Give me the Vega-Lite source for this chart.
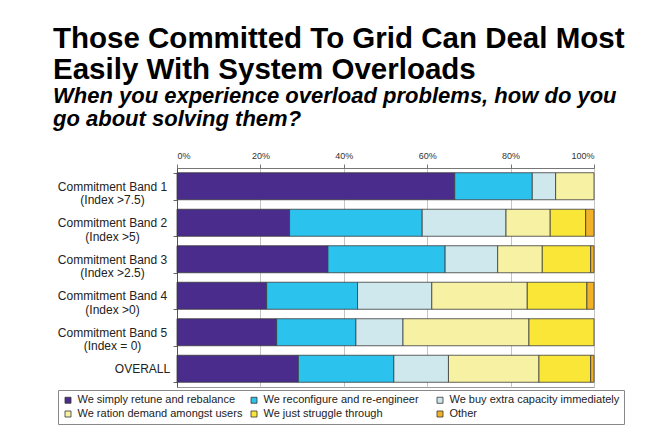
{
  "$schema": "https://vega.github.io/schema/vega-lite/v6.json",
  "width": 417,
  "height": 219,
  "autosize": {"type": "none"},
  "padding": {"left": 177, "top": 168, "right": 73, "bottom": 47},
  "background": "white",
  "title": {
    "text": ["Those Committed To Grid Can Deal Most", "Easily With System Overloads"],
    "subtitle": ["When you experience overload problems, how do you", "go about solving them?"],
    "anchor": "start",
    "frame": "group",
    "dx": -124,
    "dy": -6,
    "font": "Liberation Sans",
    "fontSize": 29.5,
    "fontWeight": "bold",
    "lineHeight": 31,
    "color": "#000000",
    "subtitleFont": "Liberation Sans",
    "subtitleFontSize": 22,
    "subtitleFontWeight": "bold",
    "subtitleFontStyle": "italic",
    "subtitleLineHeight": 23,
    "subtitleColor": "#000000",
    "subtitlePadding": 1,
    "offset": 14
  },
  "data": {
    "values": [
      {"group": "Commitment Band 1 (Index >7.5)", "answer": "We simply retune and rebalance", "k": 1, "pct": 66.6},
      {"group": "Commitment Band 1 (Index >7.5)", "answer": "We reconfigure and re-engineer", "k": 2, "pct": 18.6},
      {"group": "Commitment Band 1 (Index >7.5)", "answer": "We buy extra capacity immediately", "k": 3, "pct": 5.6},
      {"group": "Commitment Band 1 (Index >7.5)", "answer": "We ration demand amongst users", "k": 4, "pct": 9.2},
      {"group": "Commitment Band 2 (Index >5)", "answer": "We simply retune and rebalance", "k": 1, "pct": 27.0},
      {"group": "Commitment Band 2 (Index >5)", "answer": "We reconfigure and re-engineer", "k": 2, "pct": 31.8},
      {"group": "Commitment Band 2 (Index >5)", "answer": "We buy extra capacity immediately", "k": 3, "pct": 20.1},
      {"group": "Commitment Band 2 (Index >5)", "answer": "We ration demand amongst users", "k": 4, "pct": 10.6},
      {"group": "Commitment Band 2 (Index >5)", "answer": "We just struggle through", "k": 5, "pct": 8.5},
      {"group": "Commitment Band 2 (Index >5)", "answer": "Other", "k": 6, "pct": 2.0},
      {"group": "Commitment Band 3 (Index >2.5)", "answer": "We simply retune and rebalance", "k": 1, "pct": 36.2},
      {"group": "Commitment Band 3 (Index >2.5)", "answer": "We reconfigure and re-engineer", "k": 2, "pct": 28.1},
      {"group": "Commitment Band 3 (Index >2.5)", "answer": "We buy extra capacity immediately", "k": 3, "pct": 12.6},
      {"group": "Commitment Band 3 (Index >2.5)", "answer": "We ration demand amongst users", "k": 4, "pct": 10.7},
      {"group": "Commitment Band 3 (Index >2.5)", "answer": "We just struggle through", "k": 5, "pct": 11.6},
      {"group": "Commitment Band 3 (Index >2.5)", "answer": "Other", "k": 6, "pct": 0.8},
      {"group": "Commitment Band 4 (Index >0)", "answer": "We simply retune and rebalance", "k": 1, "pct": 21.5},
      {"group": "Commitment Band 4 (Index >0)", "answer": "We reconfigure and re-engineer", "k": 2, "pct": 21.8},
      {"group": "Commitment Band 4 (Index >0)", "answer": "We buy extra capacity immediately", "k": 3, "pct": 17.8},
      {"group": "Commitment Band 4 (Index >0)", "answer": "We ration demand amongst users", "k": 4, "pct": 22.9},
      {"group": "Commitment Band 4 (Index >0)", "answer": "We just struggle through", "k": 5, "pct": 14.3},
      {"group": "Commitment Band 4 (Index >0)", "answer": "Other", "k": 6, "pct": 1.7},
      {"group": "Commitment Band 5 (Index = 0)", "answer": "We simply retune and rebalance", "k": 1, "pct": 23.9},
      {"group": "Commitment Band 5 (Index = 0)", "answer": "We reconfigure and re-engineer", "k": 2, "pct": 19.0},
      {"group": "Commitment Band 5 (Index = 0)", "answer": "We buy extra capacity immediately", "k": 3, "pct": 11.3},
      {"group": "Commitment Band 5 (Index = 0)", "answer": "We ration demand amongst users", "k": 4, "pct": 30.2},
      {"group": "Commitment Band 5 (Index = 0)", "answer": "We just struggle through", "k": 5, "pct": 15.6},
      {"group": "OVERALL", "answer": "We simply retune and rebalance", "k": 1, "pct": 29.1},
      {"group": "OVERALL", "answer": "We reconfigure and re-engineer", "k": 2, "pct": 22.9},
      {"group": "OVERALL", "answer": "We buy extra capacity immediately", "k": 3, "pct": 13.1},
      {"group": "OVERALL", "answer": "We ration demand amongst users", "k": 4, "pct": 21.7},
      {"group": "OVERALL", "answer": "We just struggle through", "k": 5, "pct": 12.4},
      {"group": "OVERALL", "answer": "Other", "k": 6, "pct": 0.8}
    ]
  },
  "mark": {"type": "bar", "stroke": "#3a3a3a", "strokeWidth": 0.8},
  "encoding": {
    "y": {
      "field": "group",
      "type": "nominal",
      "sort": ["Commitment Band 1 (Index >7.5)", "Commitment Band 2 (Index >5)", "Commitment Band 3 (Index >2.5)", "Commitment Band 4 (Index >0)", "Commitment Band 5 (Index = 0)", "OVERALL"],
      "scale": {"paddingInner": 0.26, "paddingOuter": 0.13},
      "axis": {
        "title": null,
        "labelExpr": "indexof(datum.label, ' (') > 0 ? [substring(datum.label, 0, indexof(datum.label, ' (')), substring(datum.label, indexof(datum.label, ' (') + 1)] : datum.label",
        "labelAlign": "center",
        "labelBaseline": "middle",
        "labelPadding": {"condition": {"test": "datum.label == 'OVERALL'", "value": 31}, "value": 61},
        "labelFont": "Liberation Sans",
        "labelFontSize": 12,
        "labelLineHeight": 13.5,
        "labelColor": "#222222",
        "labelLimit": 300,
        "tickBand": "extent",
        "ticks": true,
        "tickSize": 4,
        "tickColor": "#666666",
        "domainColor": "#555555",
        "grid": false
      }
    },
    "x": {
      "field": "pct",
      "type": "quantitative",
      "stack": "zero",
      "scale": {"domain": [0, 100], "nice": false},
      "axis": {
        "orient": "top",
        "title": null,
        "values": [0, 20, 40, 60, 80, 100],
        "labelExpr": "datum.value + '%'",
        "labelFont": "Liberation Sans",
        "labelFontSize": 9,
        "labelColor": "#333333",
        "labelPadding": 4,
        "tickSize": 4,
        "tickColor": "#777777",
        "domainColor": "#777777",
        "grid": true,
        "gridColor": "#c4c4c4",
        "gridWidth": 1
      }
    },
    "color": {
      "field": "answer",
      "type": "nominal",
      "scale": {
        "domain": ["We simply retune and rebalance", "We reconfigure and re-engineer", "We buy extra capacity immediately", "We ration demand amongst users", "We just struggle through", "Other"],
        "range": ["#4a2c8c", "#2cc2ee", "#cfe8ee", "#f7f2a3", "#f9e636", "#f2b227"]
      },
      "legend": {
        "title": null,
        "orient": "none",
        "direction": "horizontal",
        "legendX": -119,
        "legendY": 222,
        "columns": 3,
        "gridAlign": "all",
        "columnPadding": 1,
        "rowPadding": 2,
        "padding": 4.5,
        "symbolType": "square",
        "symbolSize": 36,
        "symbolStrokeColor": "#333333",
        "symbolStrokeWidth": 0.8,
        "symbolOpacity": 1,
        "labelFont": "Liberation Sans",
        "labelFontSize": 11,
        "labelColor": "#222222",
        "labelOffset": 4,
        "labelLimit": 300,
        "strokeColor": "#888888",
        "fillColor": "#ffffff"
      }
    },
    "order": {"field": "k", "type": "quantitative"}
  },
  "config": {
    "view": {"stroke": "#999999"}
  }
}
